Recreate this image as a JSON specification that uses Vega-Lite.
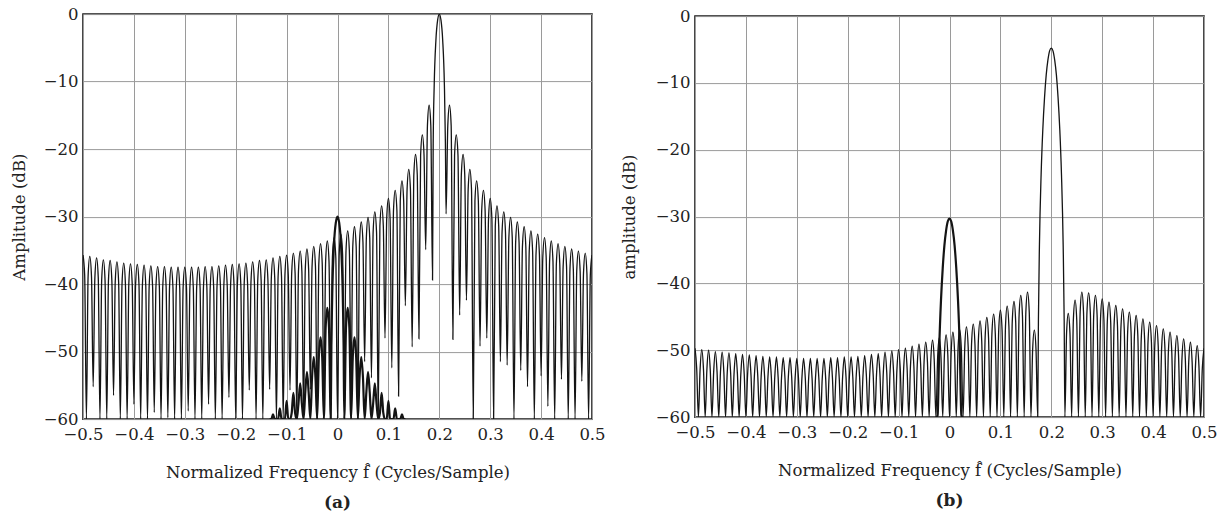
{
"$schema": "https://vega.github.io/schema/vega-lite/v6.json",
"background": "white",
"padding": {"left": 10, "top": 5, "right": 5, "bottom": 5},
"config": {
 "font": "DejaVu Serif",
 "view": {"stroke": "#1a1a1a", "strokeWidth": 1.6},
 "axis": {"grid": true, "gridColor": "#9a9a9a", "gridWidth": 1, "domain": false, "ticks": false, "labelFont": "DejaVu Serif", "labelFontSize": 16.5, "labelColor": "#222", "labelFlush": false, "labelOverlap": false, "titleFont": "DejaVu Serif", "titleFontSize": 16.5, "titleFontWeight": "normal", "titleColor": "#222"},
 "title": {"font": "DejaVu Serif", "fontSize": 17, "fontWeight": "bold", "color": "#222", "orient": "bottom", "anchor": "middle", "frame": "group", "offset": 14}
},
"datasets": {
"a1": [
{"f":-0.5,"d":-35.7},{"f":-0.4967,"d":-38.7},{"f":-0.4933,"d":-60},
{"f":-0.49,"d":-38.9},{"f":-0.4867,"d":-35.9},{"f":-0.4833,"d":-38.9},{"f":-0.48,"d":-55.2},
{"f":-0.4767,"d":-39.1},{"f":-0.4733,"d":-36.1},{"f":-0.47,"d":-39.1},{"f":-0.4667,"d":-60},
{"f":-0.4633,"d":-39.4},{"f":-0.46,"d":-36.4},{"f":-0.4567,"d":-39.4},{"f":-0.4533,"d":-60},
{"f":-0.45,"d":-39.5},{"f":-0.4467,"d":-36.5},{"f":-0.4433,"d":-39.5},{"f":-0.44,"d":-56.5},
{"f":-0.4367,"d":-39.7},{"f":-0.4333,"d":-36.7},{"f":-0.43,"d":-39.7},{"f":-0.4267,"d":-60},
{"f":-0.4233,"d":-39.9},{"f":-0.42,"d":-36.9},{"f":-0.4167,"d":-39.9},{"f":-0.4133,"d":-60},
{"f":-0.41,"d":-40},{"f":-0.4067,"d":-37},{"f":-0.4033,"d":-40},{"f":-0.4,"d":-57.8},
{"f":-0.3967,"d":-40.1},{"f":-0.3933,"d":-37.1},{"f":-0.39,"d":-40.1},{"f":-0.3867,"d":-60},
{"f":-0.3833,"d":-40.2},{"f":-0.38,"d":-37.2},{"f":-0.3767,"d":-40.2},{"f":-0.3733,"d":-60},
{"f":-0.37,"d":-40.3},{"f":-0.3667,"d":-37.3},{"f":-0.3633,"d":-40.3},{"f":-0.36,"d":-59},
{"f":-0.3567,"d":-40.4},{"f":-0.3533,"d":-37.4},{"f":-0.35,"d":-40.4},{"f":-0.3467,"d":-60},
{"f":-0.3433,"d":-40.4},{"f":-0.34,"d":-37.4},{"f":-0.3367,"d":-40.4},{"f":-0.3333,"d":-59.8},
{"f":-0.33,"d":-40.5},{"f":-0.3267,"d":-37.5},{"f":-0.3233,"d":-40.5},{"f":-0.32,"d":-60},
{"f":-0.3167,"d":-40.5},{"f":-0.3133,"d":-37.5},{"f":-0.31,"d":-40.5},{"f":-0.3067,"d":-60},
{"f":-0.3033,"d":-40.5},{"f":-0.3,"d":-37.5},{"f":-0.2967,"d":-40.5},{"f":-0.2933,"d":-58.8},
{"f":-0.29,"d":-40.5},{"f":-0.2867,"d":-37.5},{"f":-0.2833,"d":-40.5},{"f":-0.28,"d":-60},
{"f":-0.2767,"d":-40.5},{"f":-0.2733,"d":-37.5},{"f":-0.27,"d":-40.5},{"f":-0.2667,"d":-60},
{"f":-0.2633,"d":-40.4},{"f":-0.26,"d":-37.4},{"f":-0.2567,"d":-40.4},{"f":-0.2533,"d":-57.8},
{"f":-0.25,"d":-40.4},{"f":-0.2467,"d":-37.4},{"f":-0.2433,"d":-40.4},{"f":-0.24,"d":-60},
{"f":-0.2367,"d":-40.3},{"f":-0.2333,"d":-37.3},{"f":-0.23,"d":-40.3},{"f":-0.2267,"d":-60},
{"f":-0.2233,"d":-40.2},{"f":-0.22,"d":-37.2},{"f":-0.2167,"d":-40.2},{"f":-0.2133,"d":-56.8},
{"f":-0.21,"d":-40.1},{"f":-0.2067,"d":-37.1},{"f":-0.2033,"d":-40.1},{"f":-0.2,"d":-60},
{"f":-0.1967,"d":-40},{"f":-0.1933,"d":-37},{"f":-0.19,"d":-40},{"f":-0.1867,"d":-60},
{"f":-0.1833,"d":-39.9},{"f":-0.18,"d":-36.9},{"f":-0.1767,"d":-39.9},{"f":-0.1733,"d":-55.7},
{"f":-0.17,"d":-39.7},{"f":-0.1667,"d":-36.7},{"f":-0.1633,"d":-39.7},{"f":-0.16,"d":-60},
{"f":-0.1567,"d":-39.5},{"f":-0.1533,"d":-36.5},{"f":-0.15,"d":-39.5},{"f":-0.1467,"d":-60},
{"f":-0.1433,"d":-39.4},{"f":-0.14,"d":-36.4},{"f":-0.1367,"d":-39.4},{"f":-0.1333,"d":-55.6},
{"f":-0.13,"d":-39.1},{"f":-0.1267,"d":-36.1},{"f":-0.1233,"d":-39.1},{"f":-0.12,"d":-60},
{"f":-0.1167,"d":-38.9},{"f":-0.1133,"d":-35.9},{"f":-0.11,"d":-38.9},{"f":-0.1067,"d":-60},
{"f":-0.1033,"d":-38.7},{"f":-0.1,"d":-35.7},{"f":-0.0967,"d":-38.7},{"f":-0.0933,"d":-55.7},
{"f":-0.09,"d":-38.4},{"f":-0.0867,"d":-35.4},{"f":-0.0833,"d":-38.4},{"f":-0.08,"d":-60},
{"f":-0.0767,"d":-38.1},{"f":-0.0733,"d":-35.1},{"f":-0.07,"d":-38.1},{"f":-0.0667,"d":-59.2},
{"f":-0.0633,"d":-37.8},{"f":-0.06,"d":-34.8},{"f":-0.0567,"d":-37.8},{"f":-0.0533,"d":-55.6},
{"f":-0.05,"d":-37.4},{"f":-0.0467,"d":-34.4},{"f":-0.0433,"d":-37.4},{"f":-0.04,"d":-60},
{"f":-0.0367,"d":-37},{"f":-0.0333,"d":-34},{"f":-0.03,"d":-37},{"f":-0.0267,"d":-56.8},
{"f":-0.0233,"d":-36.6},{"f":-0.02,"d":-33.6},{"f":-0.0167,"d":-36.6},{"f":-0.0133,"d":-55.3},
{"f":-0.01,"d":-36.1},{"f":-0.0067,"d":-33.1},{"f":-0.0033,"d":-36.1},{"f":0,"d":-60},
{"f":0.0033,"d":-35.6},{"f":0.0067,"d":-32.6},{"f":0.01,"d":-35.6},{"f":0.0133,"d":-54.3},
{"f":0.0167,"d":-35.1},{"f":0.02,"d":-32.1},{"f":0.0233,"d":-35.1},{"f":0.0267,"d":-54.8},
{"f":0.03,"d":-34.5},{"f":0.0333,"d":-31.5},{"f":0.0367,"d":-34.5},{"f":0.04,"d":-60},
{"f":0.0433,"d":-33.8},{"f":0.0467,"d":-30.8},{"f":0.05,"d":-33.8},{"f":0.0533,"d":-51.5},
{"f":0.0567,"d":-33.1},{"f":0.06,"d":-30.1},{"f":0.0633,"d":-33.1},{"f":0.0667,"d":-53.9},
{"f":0.07,"d":-32.3},{"f":0.0733,"d":-29.3},{"f":0.0767,"d":-32.3},{"f":0.08,"d":-60},
{"f":0.0833,"d":-31.4},{"f":0.0867,"d":-28.4},{"f":0.09,"d":-31.4},{"f":0.0933,"d":-48},
{"f":0.0967,"d":-30.3},{"f":0.1,"d":-27.3},{"f":0.1033,"d":-30.3},{"f":0.1067,"d":-52.4},
{"f":0.11,"d":-29.1},{"f":0.1133,"d":-26.1},{"f":0.1167,"d":-29.1},{"f":0.12,"d":-56.6},
{"f":0.1233,"d":-27.7},{"f":0.1267,"d":-24.7},{"f":0.13,"d":-27.7},{"f":0.1333,"d":-43.2},
{"f":0.1367,"d":-26},{"f":0.14,"d":-23},{"f":0.1433,"d":-26},{"f":0.1467,"d":-49.3},
{"f":0.15,"d":-23.8},{"f":0.1533,"d":-20.8},{"f":0.1567,"d":-23.8},{"f":0.16,"d":-48.1},
{"f":0.1633,"d":-20.9},{"f":0.1667,"d":-17.9},{"f":0.17,"d":-20.9},{"f":0.1733,"d":-34.9},
{"f":0.1767,"d":-16.5},{"f":0.18,"d":-13.5},{"f":0.1833,"d":-16.5},{"f":0.1867,"d":-39.4},
{"f":0.188,"d":-19.2},{"f":0.19,"d":-10.5},{"f":0.1933,"d":-3.9},{"f":0.1967,"d":-0.9},{"f":0.2,"d":0},{"f":0.2033,"d":-0.9},{"f":0.2067,"d":-3.9},{"f":0.21,"d":-10.5},{"f":0.212,"d":-19.2},{"f":0.2133,"d":-29.6},
{"f":0.2167,"d":-16.5},{"f":0.22,"d":-13.5},{"f":0.2233,"d":-16.5},{"f":0.2267,"d":-48.2},
{"f":0.23,"d":-20.9},{"f":0.2333,"d":-17.9},{"f":0.2367,"d":-20.9},{"f":0.24,"d":-44.6},
{"f":0.2433,"d":-23.8},{"f":0.2467,"d":-20.8},{"f":0.25,"d":-23.8},{"f":0.2533,"d":-42.4},
{"f":0.2567,"d":-26},{"f":0.26,"d":-23},{"f":0.2633,"d":-26},{"f":0.2667,"d":-60},
{"f":0.27,"d":-27.7},{"f":0.2733,"d":-24.7},{"f":0.2767,"d":-27.7},{"f":0.28,"d":-49.2},
{"f":0.2833,"d":-29.1},{"f":0.2867,"d":-26.1},{"f":0.29,"d":-29.1},{"f":0.2933,"d":-48},
{"f":0.2967,"d":-30.3},{"f":0.3,"d":-27.3},{"f":0.3033,"d":-30.3},{"f":0.3067,"d":-60},
{"f":0.31,"d":-31.4},{"f":0.3133,"d":-28.4},{"f":0.3167,"d":-31.4},{"f":0.32,"d":-51.5},
{"f":0.3233,"d":-32.3},{"f":0.3267,"d":-29.3},{"f":0.33,"d":-32.3},{"f":0.3333,"d":-52},
{"f":0.3367,"d":-33.1},{"f":0.34,"d":-30.1},{"f":0.3433,"d":-33.1},{"f":0.3467,"d":-60},
{"f":0.35,"d":-33.8},{"f":0.3533,"d":-30.8},{"f":0.3567,"d":-33.8},{"f":0.36,"d":-52.8},
{"f":0.3633,"d":-34.5},{"f":0.3667,"d":-31.5},{"f":0.37,"d":-34.5},{"f":0.3733,"d":-55.2},
{"f":0.3767,"d":-35.1},{"f":0.38,"d":-32.1},{"f":0.3833,"d":-35.1},{"f":0.3867,"d":-60},
{"f":0.39,"d":-35.6},{"f":0.3933,"d":-32.6},{"f":0.3967,"d":-35.6},{"f":0.4,"d":-53.6},
{"f":0.4033,"d":-36.1},{"f":0.4067,"d":-33.1},{"f":0.41,"d":-36.1},{"f":0.4133,"d":-58.1},
{"f":0.4167,"d":-36.6},{"f":0.42,"d":-33.6},{"f":0.4233,"d":-36.6},{"f":0.4267,"d":-60},
{"f":0.43,"d":-37},{"f":0.4333,"d":-34},{"f":0.4367,"d":-37},{"f":0.44,"d":-54.1},
{"f":0.4433,"d":-37.4},{"f":0.4467,"d":-34.4},{"f":0.45,"d":-37.4},{"f":0.4533,"d":-60},
{"f":0.4567,"d":-37.8},{"f":0.46,"d":-34.8},{"f":0.4633,"d":-37.8},{"f":0.4667,"d":-60},
{"f":0.47,"d":-38.1},{"f":0.4733,"d":-35.1},{"f":0.4767,"d":-38.1},{"f":0.48,"d":-54.4},
{"f":0.4833,"d":-38.4},{"f":0.4867,"d":-35.4},{"f":0.49,"d":-38.4},{"f":0.4933,"d":-60},
{"f":0.4967,"d":-38.7},{"f":0.5,"d":-35.7}
],
"a2": [
{"f":-0.1333,"d":-60},{"f":-0.13,"d":-60},{"f":-0.1267,"d":-59.3},{"f":-0.1233,"d":-60},{"f":-0.12,"d":-60},
{"f":-0.1167,"d":-60},{"f":-0.1133,"d":-58.4},{"f":-0.11,"d":-60},{"f":-0.1067,"d":-60},
{"f":-0.1033,"d":-60},{"f":-0.1,"d":-57.3},{"f":-0.0967,"d":-60},{"f":-0.0933,"d":-60},
{"f":-0.09,"d":-59.1},{"f":-0.0867,"d":-56.1},{"f":-0.0833,"d":-59.1},{"f":-0.08,"d":-60},
{"f":-0.0767,"d":-57.7},{"f":-0.0733,"d":-54.7},{"f":-0.07,"d":-57.7},{"f":-0.0667,"d":-60},
{"f":-0.0633,"d":-56},{"f":-0.06,"d":-53},{"f":-0.0567,"d":-56},{"f":-0.0533,"d":-60},
{"f":-0.05,"d":-53.8},{"f":-0.0467,"d":-50.8},{"f":-0.0433,"d":-53.8},{"f":-0.04,"d":-60},
{"f":-0.0367,"d":-50.9},{"f":-0.0333,"d":-47.9},{"f":-0.03,"d":-50.9},{"f":-0.0267,"d":-60},
{"f":-0.0233,"d":-46.5},{"f":-0.02,"d":-43.5},{"f":-0.0167,"d":-46.5},{"f":-0.0133,"d":-60},
{"f":-0.012,"d":-49.2},{"f":-0.01,"d":-40.5},{"f":-0.0067,"d":-33.9},{"f":-0.0033,"d":-30.9},{"f":0,"d":-30},
{"f":0.0033,"d":-30.9},{"f":0.0067,"d":-33.9},{"f":0.01,"d":-40.5},{"f":0.012,"d":-49.2},{"f":0.0133,"d":-60},
{"f":0.0167,"d":-46.5},{"f":0.02,"d":-43.5},{"f":0.0233,"d":-46.5},{"f":0.0267,"d":-60},
{"f":0.03,"d":-50.9},{"f":0.0333,"d":-47.9},{"f":0.0367,"d":-50.9},{"f":0.04,"d":-60},
{"f":0.0433,"d":-53.8},{"f":0.0467,"d":-50.8},{"f":0.05,"d":-53.8},{"f":0.0533,"d":-60},
{"f":0.0567,"d":-56},{"f":0.06,"d":-53},{"f":0.0633,"d":-56},{"f":0.0667,"d":-60},
{"f":0.07,"d":-57.7},{"f":0.0733,"d":-54.7},{"f":0.0767,"d":-57.7},{"f":0.08,"d":-60},
{"f":0.0833,"d":-59.1},{"f":0.0867,"d":-56.1},{"f":0.09,"d":-59.1},{"f":0.0933,"d":-60},
{"f":0.0967,"d":-60},{"f":0.1,"d":-57.3},{"f":0.1033,"d":-60},{"f":0.1067,"d":-60},
{"f":0.11,"d":-60},{"f":0.1133,"d":-58.4},{"f":0.1167,"d":-60},{"f":0.12,"d":-60},
{"f":0.1233,"d":-60},{"f":0.1267,"d":-59.3},{"f":0.13,"d":-60},{"f":0.1333,"d":-60}
],
"b1": [
{"f":-0.5,"d":-49.7},{"f":-0.4967,"d":-52.7},{"f":-0.4933,"d":-60},
{"f":-0.49,"d":-52.9},{"f":-0.4867,"d":-49.9},{"f":-0.4833,"d":-52.9},{"f":-0.48,"d":-60},
{"f":-0.4767,"d":-53},{"f":-0.4733,"d":-50},{"f":-0.47,"d":-53},{"f":-0.4667,"d":-60},
{"f":-0.4633,"d":-53.2},{"f":-0.46,"d":-50.2},{"f":-0.4567,"d":-53.2},{"f":-0.4533,"d":-60},
{"f":-0.45,"d":-53.3},{"f":-0.4467,"d":-50.3},{"f":-0.4433,"d":-53.3},{"f":-0.44,"d":-60},
{"f":-0.4367,"d":-53.4},{"f":-0.4333,"d":-50.4},{"f":-0.43,"d":-53.4},{"f":-0.4267,"d":-60},
{"f":-0.4233,"d":-53.5},{"f":-0.42,"d":-50.5},{"f":-0.4167,"d":-53.5},{"f":-0.4133,"d":-60},
{"f":-0.41,"d":-53.6},{"f":-0.4067,"d":-50.6},{"f":-0.4033,"d":-53.6},{"f":-0.4,"d":-60},
{"f":-0.3967,"d":-53.7},{"f":-0.3933,"d":-50.7},{"f":-0.39,"d":-53.7},{"f":-0.3867,"d":-60},
{"f":-0.3833,"d":-53.8},{"f":-0.38,"d":-50.8},{"f":-0.3767,"d":-53.8},{"f":-0.3733,"d":-60},
{"f":-0.37,"d":-53.9},{"f":-0.3667,"d":-50.9},{"f":-0.3633,"d":-53.9},{"f":-0.36,"d":-60},
{"f":-0.3567,"d":-54},{"f":-0.3533,"d":-51},{"f":-0.35,"d":-54},{"f":-0.3467,"d":-60},
{"f":-0.3433,"d":-54},{"f":-0.34,"d":-51},{"f":-0.3367,"d":-54},{"f":-0.3333,"d":-60},
{"f":-0.33,"d":-54.1},{"f":-0.3267,"d":-51.1},{"f":-0.3233,"d":-54.1},{"f":-0.32,"d":-60},
{"f":-0.3167,"d":-54.1},{"f":-0.3133,"d":-51.1},{"f":-0.31,"d":-54.1},{"f":-0.3067,"d":-60},
{"f":-0.3033,"d":-54.2},{"f":-0.3,"d":-51.2},{"f":-0.2967,"d":-54.2},{"f":-0.2933,"d":-60},
{"f":-0.29,"d":-54.2},{"f":-0.2867,"d":-51.2},{"f":-0.2833,"d":-54.2},{"f":-0.28,"d":-60},
{"f":-0.2767,"d":-54.2},{"f":-0.2733,"d":-51.2},{"f":-0.27,"d":-54.2},{"f":-0.2667,"d":-60},
{"f":-0.2633,"d":-54.2},{"f":-0.26,"d":-51.2},{"f":-0.2567,"d":-54.2},{"f":-0.2533,"d":-60},
{"f":-0.25,"d":-54.2},{"f":-0.2467,"d":-51.2},{"f":-0.2433,"d":-54.2},{"f":-0.24,"d":-60},
{"f":-0.2367,"d":-54.1},{"f":-0.2333,"d":-51.1},{"f":-0.23,"d":-54.1},{"f":-0.2267,"d":-60},
{"f":-0.2233,"d":-54.1},{"f":-0.22,"d":-51.1},{"f":-0.2167,"d":-54.1},{"f":-0.2133,"d":-60},
{"f":-0.21,"d":-54},{"f":-0.2067,"d":-51},{"f":-0.2033,"d":-54},{"f":-0.2,"d":-60},
{"f":-0.1967,"d":-54},{"f":-0.1933,"d":-51},{"f":-0.19,"d":-54},{"f":-0.1867,"d":-60},
{"f":-0.1833,"d":-53.9},{"f":-0.18,"d":-50.9},{"f":-0.1767,"d":-53.9},{"f":-0.1733,"d":-60},
{"f":-0.17,"d":-53.8},{"f":-0.1667,"d":-50.8},{"f":-0.1633,"d":-53.8},{"f":-0.16,"d":-60},
{"f":-0.1567,"d":-53.6},{"f":-0.1533,"d":-50.6},{"f":-0.15,"d":-53.6},{"f":-0.1467,"d":-60},
{"f":-0.1433,"d":-53.5},{"f":-0.14,"d":-50.5},{"f":-0.1367,"d":-53.5},{"f":-0.1333,"d":-60},
{"f":-0.13,"d":-53.3},{"f":-0.1267,"d":-50.3},{"f":-0.1233,"d":-53.3},{"f":-0.12,"d":-60},
{"f":-0.1167,"d":-53.1},{"f":-0.1133,"d":-50.1},{"f":-0.11,"d":-53.1},{"f":-0.1067,"d":-60},
{"f":-0.1033,"d":-52.9},{"f":-0.1,"d":-49.9},{"f":-0.0967,"d":-52.9},{"f":-0.0933,"d":-60},
{"f":-0.09,"d":-52.7},{"f":-0.0867,"d":-49.7},{"f":-0.0833,"d":-52.7},{"f":-0.08,"d":-60},
{"f":-0.0767,"d":-52.4},{"f":-0.0733,"d":-49.4},{"f":-0.07,"d":-52.4},{"f":-0.0667,"d":-60},
{"f":-0.0633,"d":-52.1},{"f":-0.06,"d":-49.1},{"f":-0.0567,"d":-52.1},{"f":-0.0533,"d":-60},
{"f":-0.05,"d":-51.8},{"f":-0.0467,"d":-48.8},{"f":-0.0433,"d":-51.8},{"f":-0.04,"d":-60},
{"f":-0.0367,"d":-51.5},{"f":-0.0333,"d":-48.5},{"f":-0.03,"d":-51.5},{"f":-0.0267,"d":-60},
{"f":-0.0233,"d":-51.1},{"f":-0.02,"d":-48.1},{"f":-0.0167,"d":-51.1},{"f":-0.0133,"d":-60},
{"f":-0.01,"d":-50.7},{"f":-0.0067,"d":-47.7},{"f":-0.0033,"d":-50.7},{"f":0,"d":-60},
{"f":0.0033,"d":-50.3},{"f":0.0067,"d":-47.3},{"f":0.01,"d":-50.3},{"f":0.0133,"d":-60},
{"f":0.0167,"d":-49.9},{"f":0.02,"d":-46.9},{"f":0.0233,"d":-49.9},{"f":0.0267,"d":-60},
{"f":0.03,"d":-49.5},{"f":0.0333,"d":-46.5},{"f":0.0367,"d":-49.5},{"f":0.04,"d":-60},
{"f":0.0433,"d":-49.1},{"f":0.0467,"d":-46.1},{"f":0.05,"d":-49.1},{"f":0.0533,"d":-60},
{"f":0.0567,"d":-48.6},{"f":0.06,"d":-45.6},{"f":0.0633,"d":-48.6},{"f":0.0667,"d":-60},
{"f":0.07,"d":-48.1},{"f":0.0733,"d":-45.1},{"f":0.0767,"d":-48.1},{"f":0.08,"d":-60},
{"f":0.0833,"d":-47.6},{"f":0.0867,"d":-44.6},{"f":0.09,"d":-47.6},{"f":0.0933,"d":-60},
{"f":0.0967,"d":-47},{"f":0.1,"d":-44},{"f":0.1033,"d":-47},{"f":0.1067,"d":-60},
{"f":0.11,"d":-46.4},{"f":0.1133,"d":-43.4},{"f":0.1167,"d":-46.4},{"f":0.12,"d":-60},
{"f":0.1233,"d":-45.7},{"f":0.1267,"d":-42.7},{"f":0.13,"d":-45.7},{"f":0.1333,"d":-60},
{"f":0.1367,"d":-44.8},{"f":0.14,"d":-41.8},{"f":0.1433,"d":-44.8},{"f":0.1467,"d":-60},
{"f":0.15,"d":-44.3},{"f":0.1533,"d":-41.3},{"f":0.1567,"d":-44.3},{"f":0.16,"d":-60},
{"f":0.1633,"d":-50},{"f":0.1667,"d":-47},{"f":0.17,"d":-50},{"f":0.1733,"d":-60},
{"f":0.1747,"d":-45.5},{"f":0.1767,"d":-34.2},{"f":0.18,"d":-23.7},{"f":0.1833,"d":-17},{"f":0.1867,"d":-12.2},{"f":0.19,"d":-8.8},{"f":0.1933,"d":-6.6},{"f":0.1967,"d":-5.2},{"f":0.2,"d":-4.8},
{"f":0.2033,"d":-5.2},{"f":0.2067,"d":-6.6},{"f":0.21,"d":-8.8},{"f":0.2133,"d":-12.2},{"f":0.2167,"d":-17},{"f":0.22,"d":-23.7},{"f":0.2233,"d":-34.2},{"f":0.2253,"d":-45.5},{"f":0.2267,"d":-60},
{"f":0.23,"d":-47.5},{"f":0.2333,"d":-44.5},{"f":0.2367,"d":-47.5},{"f":0.24,"d":-60},
{"f":0.2433,"d":-45.5},{"f":0.2467,"d":-42.5},{"f":0.25,"d":-45.5},{"f":0.2533,"d":-60},
{"f":0.2567,"d":-44.3},{"f":0.26,"d":-41.3},{"f":0.2633,"d":-44.3},{"f":0.2667,"d":-60},
{"f":0.27,"d":-44.4},{"f":0.2733,"d":-41.4},{"f":0.2767,"d":-44.4},{"f":0.28,"d":-60},
{"f":0.2833,"d":-44.8},{"f":0.2867,"d":-41.8},{"f":0.29,"d":-44.8},{"f":0.2933,"d":-60},
{"f":0.2967,"d":-45.3},{"f":0.3,"d":-42.3},{"f":0.3033,"d":-45.3},{"f":0.3067,"d":-60},
{"f":0.31,"d":-45.8},{"f":0.3133,"d":-42.8},{"f":0.3167,"d":-45.8},{"f":0.32,"d":-60},
{"f":0.3233,"d":-46.3},{"f":0.3267,"d":-43.3},{"f":0.33,"d":-46.3},{"f":0.3333,"d":-60},
{"f":0.3367,"d":-46.8},{"f":0.34,"d":-43.8},{"f":0.3433,"d":-46.8},{"f":0.3467,"d":-60},
{"f":0.35,"d":-47.3},{"f":0.3533,"d":-44.3},{"f":0.3567,"d":-47.3},{"f":0.36,"d":-60},
{"f":0.3633,"d":-47.8},{"f":0.3667,"d":-44.8},{"f":0.37,"d":-47.8},{"f":0.3733,"d":-60},
{"f":0.3767,"d":-48.3},{"f":0.38,"d":-45.3},{"f":0.3833,"d":-48.3},{"f":0.3867,"d":-60},
{"f":0.39,"d":-48.8},{"f":0.3933,"d":-45.8},{"f":0.3967,"d":-48.8},{"f":0.4,"d":-60},
{"f":0.4033,"d":-49.3},{"f":0.4067,"d":-46.3},{"f":0.41,"d":-49.3},{"f":0.4133,"d":-60},
{"f":0.4167,"d":-49.8},{"f":0.42,"d":-46.8},{"f":0.4233,"d":-49.8},{"f":0.4267,"d":-60},
{"f":0.43,"d":-50.3},{"f":0.4333,"d":-47.3},{"f":0.4367,"d":-50.3},{"f":0.44,"d":-60},
{"f":0.4433,"d":-50.8},{"f":0.4467,"d":-47.8},{"f":0.45,"d":-50.8},{"f":0.4533,"d":-60},
{"f":0.4567,"d":-51.3},{"f":0.46,"d":-48.3},{"f":0.4633,"d":-51.3},{"f":0.4667,"d":-60},
{"f":0.47,"d":-51.8},{"f":0.4733,"d":-48.8},{"f":0.4767,"d":-51.8},{"f":0.48,"d":-60},
{"f":0.4833,"d":-52.3},{"f":0.4867,"d":-49.3},{"f":0.49,"d":-52.3},{"f":0.4933,"d":-60},
{"f":0.4967,"d":-52.7},{"f":0.5,"d":-49.7}
],
"b2": [
{"f":-0.0267,"d":-60},{"f":-0.0253,"d":-60},{"f":-0.0233,"d":-59.7},{"f":-0.02,"d":-49.2},{"f":-0.0167,"d":-42.5},{"f":-0.0133,"d":-37.7},{"f":-0.01,"d":-34.3},{"f":-0.0067,"d":-32.1},{"f":-0.0033,"d":-30.7},{"f":0,"d":-30.3},
{"f":0.0033,"d":-30.7},{"f":0.0067,"d":-32.1},{"f":0.01,"d":-34.3},{"f":0.0133,"d":-37.7},{"f":0.0167,"d":-42.5},{"f":0.02,"d":-49.2},{"f":0.0233,"d":-59.7},{"f":0.0253,"d":-60},{"f":0.0267,"d":-60}
]
},
"hconcat": [
{
 "width": 509, "height": 405,
 "title": {"text": "(a)"},
 "encoding": {
  "x": {"field": "f", "type": "quantitative", "scale": {"domain": [-0.5, 0.5], "nice": false}, "axis": {"title": "Normalized Frequency f̂ (Cycles/Sample)", "values": [-0.5,-0.4,-0.3,-0.2,-0.1,0,0.1,0.2,0.3,0.4,0.5], "format": ".1~f", "labelPadding": 7, "titlePadding": 22}},
  "y": {"field": "d", "type": "quantitative", "scale": {"domain": [-60, 0], "nice": false}, "axis": {"title": "Amplitude (dB)", "values": [-60,-50,-40,-30,-20,-10,0], "format": "d", "labelPadding": 5, "titlePadding": 16}}
 },
 "layer": [
  {"data": {"name": "a1"}, "mark": {"type": "line", "interpolate": "monotone", "color": "#141414", "strokeWidth": 1.3, "clip": true}},
  {"data": {"name": "a2"}, "mark": {"type": "line", "interpolate": "monotone", "color": "#141414", "strokeWidth": 2.2, "clip": true}}
 ]
},
{
 "width": 509, "height": 401,
 "title": {"text": "(b)"},
 "encoding": {
  "x": {"field": "f", "type": "quantitative", "scale": {"domain": [-0.5, 0.5], "nice": false}, "axis": {"title": "Normalized Frequency f̂ (Cycles/Sample)", "values": [-0.5,-0.4,-0.3,-0.2,-0.1,0,0.1,0.2,0.3,0.4,0.5], "format": ".1~f", "labelPadding": 7, "titlePadding": 22}},
  "y": {"field": "d", "type": "quantitative", "scale": {"domain": [-60, 0], "nice": false}, "axis": {"title": "amplitude (dB)", "values": [-60,-50,-40,-30,-20,-10,0], "format": "d", "labelPadding": 5, "titlePadding": 18}}
 },
 "layer": [
  {"data": {"name": "b1"}, "mark": {"type": "line", "interpolate": "monotone", "color": "#141414", "strokeWidth": 1.3, "clip": true}},
  {"data": {"name": "b2"}, "mark": {"type": "line", "interpolate": "monotone", "color": "#141414", "strokeWidth": 2.2, "clip": true}}
 ]
}
],
"spacing": 14,
"center": true
}
